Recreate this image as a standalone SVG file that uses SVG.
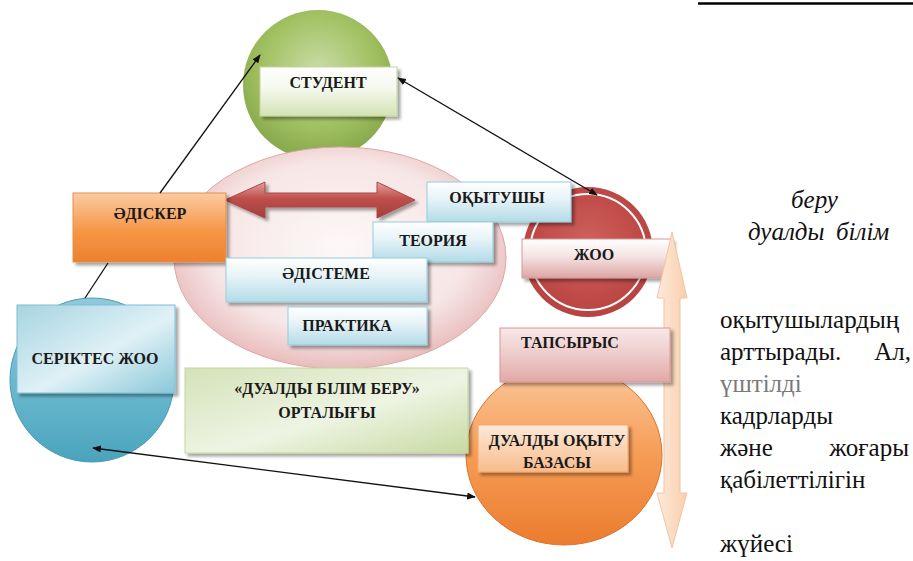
<svg xmlns="http://www.w3.org/2000/svg" width="913" height="561" viewBox="0 0 913 561">
<style>
.lbl{font-family:"Liberation Serif","Times New Roman",serif;font-weight:bold;font-size:16px;fill:#1a1a1a;text-anchor:middle}
.pg{font-family:"Liberation Serif","Times New Roman",serif;font-size:25px;fill:#111}
.it{font-style:italic}
.conn{stroke:#111;stroke-width:1.3;fill:none}
.bluebox{fill:url(#gBlueBox);stroke:#93cddd;stroke-width:1;filter:url(#sh)}
</style>
<defs>
<marker id="arr" viewBox="0 0 10 8" refX="9" refY="4" markerWidth="9" markerHeight="7" markerUnits="userSpaceOnUse" orient="auto-start-reverse"><path d="M0,0 L10,4 L0,8 z" fill="#111"/></marker>
<filter id="sh" x="-10%" y="-10%" width="125%" height="130%"><feDropShadow dx="3" dy="3" stdDeviation="1.5" flood-color="#000" flood-opacity="0.35"/></filter>
<radialGradient id="gGreenC" cx="50%" cy="40%" r="60%"><stop offset="0" stop-color="#c9dca6"/><stop offset="0.6" stop-color="#a3c264"/><stop offset="1" stop-color="#86a84a"/></radialGradient>
<linearGradient id="gStudBox" x1="0" y1="0" x2="0" y2="1"><stop offset="0" stop-color="#ffffff"/><stop offset="0.45" stop-color="#f4f8ec"/><stop offset="1" stop-color="#d3e2b4"/></linearGradient>
<radialGradient id="gPink" cx="50%" cy="45%" r="55%"><stop offset="0" stop-color="#fdf8f8"/><stop offset="0.7" stop-color="#f7e6e6"/><stop offset="1" stop-color="#e8bdbc"/></radialGradient>
<linearGradient id="gRedArr" x1="0" y1="0" x2="0" y2="1"><stop offset="0" stop-color="#e6a19e"/><stop offset="0.45" stop-color="#c0504d"/><stop offset="1" stop-color="#a23e3b"/></linearGradient>
<linearGradient id="gOrBox" x1="0" y1="0" x2="0" y2="1"><stop offset="0" stop-color="#fbcba2"/><stop offset="0.55" stop-color="#f79646"/><stop offset="1" stop-color="#ec812f"/></linearGradient>
<linearGradient id="gBlueBox" x1="0" y1="0" x2="0" y2="1"><stop offset="0" stop-color="#ffffff"/><stop offset="0.4" stop-color="#e8f4f8"/><stop offset="1" stop-color="#b3dbe7"/></linearGradient>
<linearGradient id="gSerBox" x1="0" y1="0" x2="1" y2="1"><stop offset="0" stop-color="#a7d4e1"/><stop offset="0.55" stop-color="#dff1f6"/><stop offset="1" stop-color="#8ac7d8"/></linearGradient>
<linearGradient id="gSerC" x1="0" y1="0" x2="0" y2="1"><stop offset="0" stop-color="#8fcadb"/><stop offset="0.6" stop-color="#66b6cc"/><stop offset="1" stop-color="#4aa3bd"/></linearGradient>
<linearGradient id="gGreenBox" x1="0" y1="0" x2="1" y2="1"><stop offset="0" stop-color="#d4e2b8"/><stop offset="0.55" stop-color="#eef4e3"/><stop offset="1" stop-color="#c6daa2"/></linearGradient>
<radialGradient id="gRedC" cx="50%" cy="45%" r="55%"><stop offset="0" stop-color="#d0625f"/><stop offset="1" stop-color="#b8423f"/></radialGradient>
<linearGradient id="gZhooBox" x1="0" y1="0" x2="0" y2="1"><stop offset="0" stop-color="#ffffff"/><stop offset="0.45" stop-color="#f5e3e3"/><stop offset="1" stop-color="#dca5a4"/></linearGradient>
<linearGradient id="gTaps" x1="0" y1="0" x2="0" y2="1"><stop offset="0" stop-color="#f8e8e8"/><stop offset="0.5" stop-color="#eecbca"/><stop offset="1" stop-color="#dfa9a8"/></linearGradient>
<linearGradient id="gOrC" x1="0" y1="0" x2="0" y2="1"><stop offset="0" stop-color="#fbc89c"/><stop offset="0.5" stop-color="#f69c55"/><stop offset="1" stop-color="#ea7c2e"/></linearGradient>
<linearGradient id="gOrBox2" x1="0" y1="0" x2="0" y2="1"><stop offset="0" stop-color="#fde9d9"/><stop offset="0.5" stop-color="#fbd3b2"/><stop offset="1" stop-color="#f8bc8c"/></linearGradient>
<linearGradient id="gVArr" x1="0" y1="0" x2="1" y2="0"><stop offset="0" stop-color="#fdeadb"/><stop offset="1" stop-color="#f9cfab"/></linearGradient>
</defs>
<rect width="913" height="561" fill="#ffffff"/>

<g id="student">
<circle cx="318" cy="85" r="75" fill="url(#gGreenC)"/>
</g>
<g id="center-ellipse">
<ellipse cx="340" cy="258" rx="166" ry="111" fill="url(#gPink)" stroke="#dba8a7" stroke-width="1"/>
</g>
<g id="student-label">
<rect x="260" y="67" width="137" height="49" fill="url(#gStudBox)" stroke="#c3d69b" stroke-width="1" filter="url(#sh)"/>
<text class="lbl" x="328" y="88">СТУДЕНТ</text>
</g>

<g id="exchange-arrow">
<path d="M225,200 L265,182 L265,193 L377,193 L377,182 L415,200 L377,218 L377,207 L265,207 L265,218 Z" fill="url(#gRedArr)" stroke="#a94744" stroke-width="1" filter="url(#sh)"/>
</g>

<g id="seriktes">
<circle cx="92" cy="380" r="82" fill="url(#gSerC)" stroke="#4a9bb3" stroke-width="1"/>
<rect x="17" y="305" width="158" height="88" fill="url(#gSerBox)" stroke="#7cc0d3" stroke-width="1" filter="url(#sh)"/>
<text class="lbl" x="95" y="364">СЕРІКТЕС ЖОО</text>
</g>

<g id="zhoo">
<circle cx="588" cy="252" r="65" fill="url(#gRedC)"/>
<circle cx="588" cy="252" r="58" fill="none" stroke="#ffffff" stroke-width="2"/>
<rect x="522" y="239" width="150" height="39" fill="url(#gZhooBox)" stroke="#d99694" stroke-width="1" filter="url(#sh)"/>
<text class="lbl" x="594" y="260">ЖОО</text>
</g>

<g id="v-arrow">
<path d="M672,232 L687,298 L680,298 L680,493 L687,493 L672,548 L657,493 L664,493 L664,298 L657,298 Z" fill="url(#gVArr)" stroke="#f2c3a3" stroke-width="1"/>
</g>

<g id="dual-base">
<ellipse cx="564" cy="455" rx="98" ry="90" fill="url(#gOrC)" stroke="#d9742c" stroke-width="1"/>
<rect x="478" y="425" width="150" height="47" fill="url(#gOrBox2)" stroke="#f7a76a" stroke-width="1" filter="url(#sh)"/>
<text class="lbl" x="557" y="446">ДУАЛДЫ ОҚЫТУ</text>
<text class="lbl" x="557" y="468">БАЗАСЫ</text>
</g>

<g id="tapsyrys">
<rect x="500" y="328" width="170" height="54" fill="url(#gTaps)" stroke="#d99694" stroke-width="1" filter="url(#sh)"/>
<text class="lbl" x="570" y="348">ТАПСЫРЫС</text>
</g>

<g id="adisker">
<rect x="73" y="193" width="153" height="69" fill="url(#gOrBox)" stroke="#e3904e" stroke-width="1" filter="url(#sh)"/>
<text class="lbl" x="150" y="219">ӘДІСКЕР</text>
</g>

<g id="okytushy">
<rect class="bluebox" x="427" y="182" width="144" height="40"/>
<text class="lbl" x="497" y="203">ОҚЫТУШЫ</text>
</g>
<g id="teoriya">
<rect class="bluebox" x="373" y="222" width="120" height="40"/>
<text class="lbl" x="433" y="246">ТЕОРИЯ</text>
</g>
<g id="adisteme">
<rect class="bluebox" x="226" y="258" width="201" height="44"/>
<text class="lbl" x="326" y="279">ӘДІСТЕМЕ</text>
</g>
<g id="praktika">
<rect class="bluebox" x="288" y="307" width="139" height="38"/>
<text class="lbl" x="347" y="331">ПРАКТИКА</text>
</g>

<g id="dual-center">
<rect x="185" y="368" width="283" height="85" fill="url(#gGreenBox)" stroke="#c3d69b" stroke-width="1" filter="url(#sh)"/>
<text class="lbl" x="327" y="394">«ДУАЛДЫ БІЛІМ БЕРУ»</text>
<text class="lbl" x="327" y="418">ОРТАЛЫҒЫ</text>
</g>

<g id="connectors">
<line class="conn" x1="85" y1="298" x2="108" y2="263"/>
<line class="conn" x1="160" y1="193" x2="260" y2="55" marker-end="url(#arr)"/>
<line class="conn" x1="597" y1="195" x2="398" y2="78" marker-start="url(#arr)" marker-end="url(#arr)"/>
<line class="conn" x1="93" y1="448" x2="475" y2="497" marker-start="url(#arr)" marker-end="url(#arr)"/>
</g>

<g id="page-text">
<line x1="698" y1="3.5" x2="913" y2="3.5" stroke="#000" stroke-width="2.5"/>
<text class="pg it" x="791" y="208">беру</text>
<text class="pg it" x="748" y="240">дуалды</text>
<text class="pg it" x="836" y="240">білім</text>
<text class="pg" x="720" y="328">оқытушылардың</text>
<text class="pg" x="720" y="360">арттырады.</text>
<text class="pg" x="911" y="360" text-anchor="end">Ал,</text>
<text class="pg" x="720" y="392" style="fill:#7a7a7a">үштілді</text>
<text class="pg" x="720" y="424">кадрларды</text>
<text class="pg" x="720" y="456">және</text>
<text class="pg" x="909" y="456" text-anchor="end">жоғары</text>
<text class="pg" x="720" y="488">қабілеттілігін</text>
<text class="pg" x="720" y="552">жүйесі</text>
</g>
</svg>
